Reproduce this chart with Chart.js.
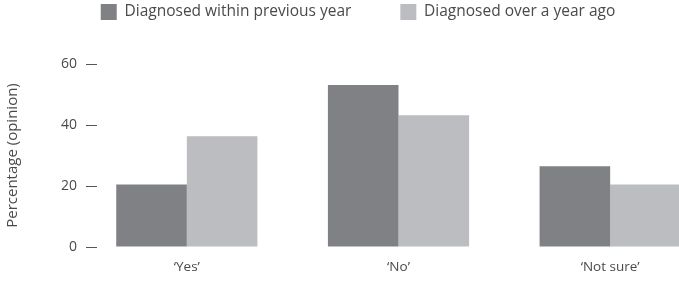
<!DOCTYPE html>
<html>
<head>
<meta charset="utf-8">
<script src="https://cdn.jsdelivr.net/npm/chart.js@4"></script>
<style>
    html, body { margin: 0; padding: 0; overflow: hidden; background: #fff; }
    #wrap { width: 716px; height: 281px; }
</style>
</head>
<body>
<div id="wrap"><canvas id="opinionChart"></canvas></div>
<script>
const categories = ['\u2018Yes\u2019', '\u2018No\u2019', '\u2018Not sure\u2019'];
const withinYear = [20.5, 53.1, 26.5];
const overYearAgo = [36.3, 43.2, 20.5];
const yTicks = [0, 20, 40, 60];

const textColor = '#4a4a4a';
const fontFamily = '"Open Sans", sans-serif';

// legend needs a wide gap between items, so push it up and give it a fixed height
const legendHeight = {
    id: 'legendHeight',
    beforeInit(chart) {
        const fit = chart.legend.fit;
        chart.legend.fit = function () {
            fit.call(this);
            this.height = 109;
        };
    },
};

document.addEventListener('DOMContentLoaded', () => {
    const canvas = document.getElementById('opinionChart');

    new Chart(canvas, {
        type: 'bar',
        data: {
            labels: categories,
            datasets: [
                {
                    label: 'Diagnosed within previous year',
                    data: withinYear,
                    backgroundColor: '#808184',
                },
                {
                    label: 'Diagnosed over a year ago',
                    data: overYearAgo,
                    backgroundColor: '#bcbdc0',
                },
            ],
        },
        options: {
            responsive: true,
            maintainAspectRatio: false,
            animation: false,
            layout: { padding: { top: -45, left: 0, right: 0, bottom: 0 } },
            datasets: {
                bar: { categoryPercentage: 0.667, barPercentage: 1.0 },
            },
            plugins: {
                legend: {
                    position: 'top',
                    labels: {
                        boxWidth: 16,
                        boxHeight: 16,
                        padding: 49,
                        color: textColor,
                        font: { family: fontFamily, size: 15.5 },
                    },
                },
                tooltip: { enabled: false },
            },
            scales: {
                x: {
                    grid: { display: false },
                    border: { display: false },
                    ticks: {
                        color: textColor,
                        padding: 4,
                        font: { family: fontFamily, size: 13.5 },
                    },
                    afterFit: (scale) => { scale.height = 34; },
                },
                y: {
                    min: 0,
                    max: 60,
                    afterBuildTicks: (scale) => {
                        scale.ticks = yTicks.map((v) => ({ value: v }));
                    },
                    afterFit: (scale) => { scale.width = 81; },
                    grid: {
                        drawTicks: false,
                        color: '#555555',
                        lineWidth: 1,
                    },
                    border: { display: false, dash: [11, 2000], dashOffset: -5 },
                    ticks: {
                        color: textColor,
                        padding: 4,
                        font: { family: fontFamily, size: 14 },
                    },
                    title: {
                        display: true,
                        text: 'Percentage (opinion)',
                        color: textColor,
                        font: { family: fontFamily, size: 15 },
                    },
                },
            },
        },
        plugins: [legendHeight],
    });
});
</script>
</body>
</html>
